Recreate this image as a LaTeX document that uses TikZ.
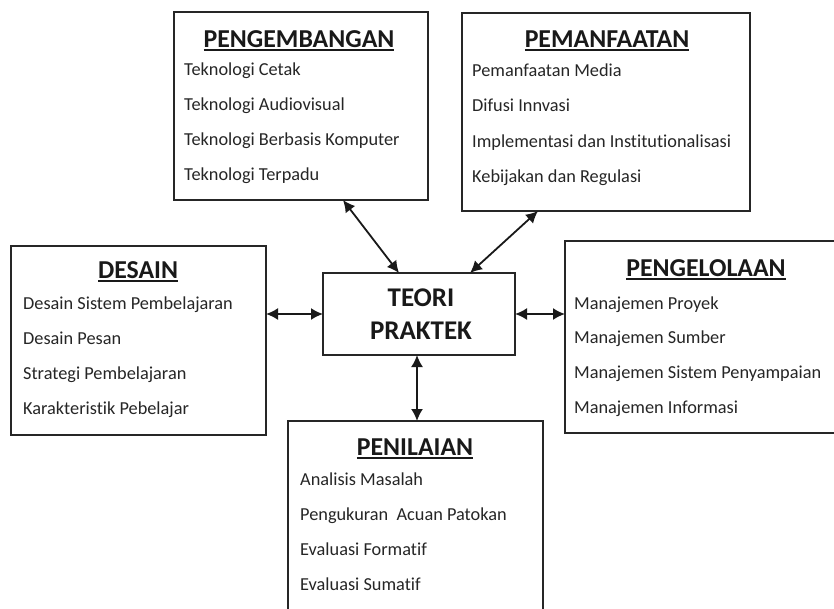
\documentclass[tikz,border=0pt]{standalone}
\usepackage{fontspec}
\setmainfont{Carlito}[Ligatures=NoCommon]
\usetikzlibrary{arrows.meta}
\newcommand\ulx[1]{\setbox0\hbox{#1}\rlap{\rule[-4pt]{\wd0}{2pt}}\box0}
\begin{document}
\begin{tikzpicture}[x=1pt,y=-1pt,
  box/.style={draw=black!85, line width=1.6pt, rectangle, inner sep=0pt, outer sep=0pt, anchor=north west},
  item/.style={anchor=base west, inner sep=0pt, text=black!85, font=\fontsize{18.3}{21}\selectfont},
  ttl/.style={anchor=base, inner sep=0pt, text=black!90, font=\bfseries\fontsize{25.8}{30}\selectfont},
  core/.style={anchor=base, inner sep=0pt, text=black!90, font=\bfseries\fontsize{27}{32}\selectfont},
  arr/.style={line width=1.8pt, black!90, {Latex[length=12pt,width=12pt]}-{Latex[length=12pt,width=12pt]}}]
\clip (0,0) rectangle (834,608);
\fill[white] (0,0) rectangle (834,608);

% boxes
\node[box, minimum width=254pt, minimum height=188pt] (peng) at (174,12) {};
\node[box, minimum width=288pt, minimum height=198pt] (peman) at (462,13) {};
\node[box, minimum width=255pt, minimum height=189pt] (desain) at (11,246) {};
\node[box, minimum width=192pt, minimum height=82pt] (teori) at (323,273) {};
\node[box, minimum width=290pt, minimum height=192pt] (pengel) at (565,241) {};
\node[box, minimum width=255pt, minimum height=200pt] (penil) at (288,421) {};

% PENGEMBANGAN
\node[ttl] (t1) at (299,47) {\ulx{PENGEMBANGAN}};
\node[item] (a1) at (184,75) {Teknologi Cetak};
\node[item] (a2) at (184,110) {Teknologi Audiovisual};
\node[item] (a3) at (184,145) {Teknologi Berbasis Komputer};
\node[item] (a4) at (184,180) {Teknologi Terpadu};

% PEMANFAATAN
\node[ttl] (t2) at (607,47) {\ulx{PEMANFAATAN}};
\node[item] (b1) at (472,76) {Pemanfaatan Media};
\node[item] (b2) at (472,111) {Difusi Innvasi};
\node[item] (b3) at (472,147) {Implementasi dan Institutionalisasi};
\node[item] (b4) at (472,182) {Kebijakan dan Regulasi};

% DESAIN
\node[ttl] (t3) at (138,278) {\ulx{DESAIN}};
\node[item] (c1) at (23,309) {Desain Sistem Pembelajaran};
\node[item] (c2) at (23,344) {Desain Pesan};
\node[item] (c3) at (23,379) {Strategi Pembelajaran};
\node[item] (c4) at (23,414) {Karakteristik Pebelajar};

% TEORI PRAKTEK
\node[core] (k1) at (421,306) {TEORI};
\node[core] (k2) at (421,339) {PRAKTEK};

% PENGELOLAAN
\node[ttl] (t4) at (706,276) {\ulx{PENGELOLAAN}};
\node[item] (d1) at (574,309) {Manajemen Proyek};
\node[item] (d2) at (574,343) {Manajemen Sumber};
\node[item] (d3) at (574,378) {Manajemen Sistem Penyampaian};
\node[item] (d4) at (574,413) {Manajemen Informasi};

% PENILAIAN
\node[ttl] (t5) at (415,455) {\ulx{PENILAIAN}};
\node[item] (e1) at (300,485) {Analisis Masalah};
\node[item] (e2) at (300,520) {Pengukuran\ \ Acuan Patokan};
\node[item] (e3) at (300,555) {Evaluasi Formatif};
\node[item] (e4) at (300,590) {Evaluasi Sumatif};

% connectors
\draw[arr] (peng.south -| 343,0) -- (teori.north -| 399,0);
\draw[arr] (peman.south -| 538,0) -- (teori.north -| 470,0);
\draw[arr] (desain.east |- 0,314) -- (teori.west |- 0,314);
\draw[arr] (teori.east |- 0,314) -- (pengel.west |- 0,314);
\draw[arr] (teori.south -| 417,0) -- (penil.north -| 417,0);
\end{tikzpicture}
\end{document}
